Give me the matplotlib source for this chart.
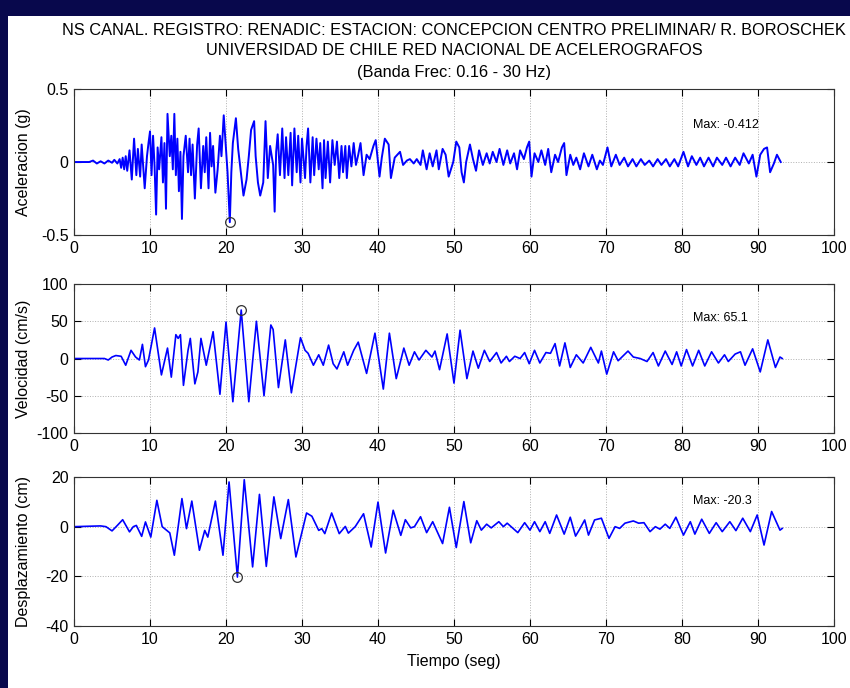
import matplotlib
matplotlib.use("Agg")
import matplotlib.pyplot as plt
from matplotlib.patches import Rectangle

plt.rcParams['font.family'] = ['Liberation Sans', 'DejaVu Sans']
plt.rcParams['axes.unicode_minus'] = False

t_acc = [0, 2.0, 2.5, 3.0, 3.5, 4.0, 4.5, 5.0, 5.3, 5.7, 6.0, 6.2, 6.4, 6.6, 6.8,
         7.0, 7.3, 7.6, 7.9, 8.2, 8.4, 8.7, 8.9, 9.3, 9.6, 9.8, 10.0, 10.2, 10.4, 10.6,
         10.8, 11.0, 11.2, 11.5, 11.7, 11.9, 12.1, 12.3, 12.6, 12.8, 13.0, 13.2, 13.4,
         13.6, 13.8, 14.0, 14.2, 14.4, 14.7, 15.0, 15.2, 15.4, 15.6, 15.9, 16.2, 16.4,
         16.7, 17.0, 17.2, 17.4, 17.7, 17.9, 18.1, 18.3, 18.6, 18.9, 19.2, 19.4, 19.7,
         20.0, 20.2, 20.5, 20.7, 20.9, 21.3, 21.6, 22.0, 22.3, 22.7, 23.0, 23.3, 23.7,
         23.9, 24.2, 24.5, 24.9, 25.2, 25.5, 25.8, 26.2, 26.4, 26.6, 26.8, 27.1, 27.4,
         27.7, 27.9, 28.2, 28.5, 28.7, 29.0, 29.3, 29.5, 29.8, 30.0, 30.4, 30.6, 30.8,
         31.1, 31.4, 31.6, 31.9, 32.2, 32.4, 32.7, 32.9, 33.1, 33.4, 33.7, 34.0, 34.3,
         34.6, 34.9, 35.2, 35.4, 35.7, 35.9, 36.2, 36.5, 36.8, 37.1, 37.4, 37.7, 38.1,
         38.5, 38.9, 39.4, 39.7, 40.2, 40.5, 40.9, 41.4, 41.7, 42.2, 42.9, 43.3, 43.8,
         44.2, 44.7, 45.1, 45.6, 45.9, 46.4, 46.8, 47.2, 47.7, 48.0, 48.5, 48.9, 49.3,
         49.9, 50.3, 50.7, 51.0, 51.3, 51.6, 52.1, 52.5, 52.9, 53.3, 53.8, 54.3, 54.7,
         55.1, 55.6, 56.0, 56.5, 57.0, 57.4, 57.9, 58.3, 58.7, 59.2, 59.6, 59.9, 60.2,
         60.6, 61.1, 61.5, 62.0, 62.4, 62.8, 63.3, 63.7, 64.2, 64.5, 64.8, 65.3, 65.7,
         66.1, 66.6, 67.1, 67.7, 68.2, 68.8, 69.2, 69.6, 70.2, 70.7, 71.3, 71.8, 72.4,
         72.9, 73.5, 74.0, 74.6, 75.1, 75.7, 76.2, 76.8, 77.3, 77.9, 78.4, 79.0, 79.5,
         80.2, 80.8, 81.3, 81.9, 82.4, 82.9, 83.5, 84.1, 84.6, 85.3, 85.8, 86.4, 87.0,
         87.6, 88.1, 88.8, 89.3, 89.8, 90.3, 90.8, 91.2, 91.6, 92.1, 92.5, 93.0]
acc = [0, 0, 0.01, -0.01, 0.005, -0.01, 0.01, -0.005, 0.015, -0.01, 0.02, -0.04, 0.03, -0.05, 0.04,
       -0.06, 0.08, -0.12, 0.16, -0.09, 0.09, -0.1, 0.12, -0.18, 0.04, 0.13, 0.21, -0.09, 0.18, -0.03,
       -0.36, 0.1, -0.05, 0.17, -0.14, 0.13, -0.32, 0.33, 0.04, 0.18, -0.05, 0.33, -0.09,
       0.16, -0.2, 0.07, -0.39, 0.04, 0.18, -0.07, 0.16, -0.09, 0.12, -0.25, 0.12, 0.23,
       -0.18, 0.11, -0.07, 0.17, -0.18, 0.2, -0.03, 0.11, -0.21, -0.05, 0.18, 0.04, 0.32,
       0.09, -0.07, -0.412, -0.07, 0.13, 0.3, 0.09, -0.09, -0.23, -0.12, 0.04, 0.22, 0.28,
       0.04, -0.14, -0.23, -0.14, 0.28, -0.11, 0.11, -0.02, -0.34, 0.07, 0.19, -0.09, 0.23,
       -0.11, 0.17, -0.09, 0.2, -0.16, 0.23, -0.07, 0.18, -0.14, 0.16, -0.11, 0.11, 0.23,
       -0.14, 0.17, -0.09, 0.16, -0.05, 0.13, -0.18, 0.15, -0.11, 0.14, -0.14, 0.15, -0.02,
       0.14, -0.11, 0.11, -0.07, 0.11, -0.11, 0.11, -0.03, 0.13, -0.02, 0.05, 0.13, -0.09,
       0.05, 0.02, 0.11, 0.15, -0.1, 0.03, 0.16, 0.12, -0.11, 0.03, 0.07, -0.02, 0.01,
       0.02, -0.01, 0.02, -0.02, 0.08, -0.05, 0.06, -0.03, 0.08, -0.05, 0.09, 0.05, -0.1,
       0.0, 0.14, 0.1, -0.07, -0.14, 0.0, 0.12, 0.02, -0.06, 0.08, -0.02, 0.06, -0.01,
       0.07, 0.0, 0.09, -0.02, 0.08, -0.01, 0.06, -0.05, 0.08, 0.02, 0.1, 0.14, -0.1,
       0.06, 0.0, 0.08, -0.02, 0.09, -0.07, 0.05, 0.0, 0.1, 0.13, -0.09, 0.05, -0.02,
       0.03, -0.05, 0.06, -0.03, 0.05, -0.05, 0.01, -0.02, 0.1, -0.03, 0.05, -0.02, 0.03,
       -0.03, 0.02, -0.03, 0.02, -0.02, 0.01, -0.03, 0.02, -0.02, 0.02, -0.03, 0.02, -0.03,
       0.07, -0.03, 0.04, -0.02, 0.03, -0.03, 0.03, -0.03, 0.03, -0.02, 0.03, -0.03, 0.03,
       -0.02, 0.06, -0.01, 0.05, -0.1, 0.05, 0.09, 0.1, -0.07, -0.01, 0.05, 0.0]

# Velocidad (cm/s)
t_vel = [0, 4.0, 4.5, 5.0, 5.5, 6.2, 6.8, 7.5, 8.1, 8.6, 9.0, 9.4, 9.8, 10.6, 11.5, 11.9,
         12.3, 12.8, 13.4, 13.7, 14.0, 14.4, 15.0, 15.3, 15.9, 16.3, 16.7, 17.4, 18.3, 19.2,
         20.0, 20.9, 22.0, 23.0, 24.0, 25.0, 25.9, 26.2, 26.9, 27.8, 28.6, 29.8, 30.4, 30.8,
         31.5, 32.2, 32.8, 33.5, 34.1, 34.6, 35.5, 36.0, 36.8, 37.4, 38.5, 39.6, 40.7, 41.5,
         42.4, 43.4, 44.1, 44.8, 45.4, 46.3, 47.1, 47.5, 48.1, 49.1, 50.0, 50.8, 51.7, 52.5,
         53.2, 54.0, 54.7, 55.6, 56.2, 56.9, 57.3, 58.0, 58.7, 59.3, 59.9, 60.6, 61.3, 62.1,
         62.7, 63.3, 63.9, 64.6, 65.3, 66.1, 67.0, 68.0, 69.0, 69.4, 70.1, 71.0, 71.6, 72.4,
         72.9, 73.6, 74.5, 75.4, 76.2, 76.9, 77.8, 78.7, 79.3, 79.9, 80.6, 81.4, 82.2, 83.0,
         83.9, 84.8, 85.6, 86.1, 87.0, 87.7, 88.3, 89.3, 90.3, 91.3, 92.3, 92.9, 93.2]
vel = [0, 0, -2, 2, 4, 3, -9, 11, 2, -2, 19, -11, -2, 41, -22, -4,
       14, -25, 32, 27, 32, -36, 11, 27, -34, -18, 27, -9, 36, -48,
       49, -58, 65.1, -58, 50, -50, 45, 39, -39, 25, -46, 28, 11, 7,
       -9, 5, -9, 18, -7, -14, 9, -9, 11, 22, -20, 34, -41, 34,
       -27, 14, -9, 9, -2, 11, 2, 10, -15, 33, -33, 38, -27, 10,
       -13, 11, -4, 8, -6, 3, -4, 3, 0, 8, -7, 11, -6, 8,
       7, 20, -10, 21, -12, 5, -6, 15, -6, 10, -21, 9, -3, 5,
       10, 2, 0, -4, 8, -10, 10, -8, 9, -10, 12, -10, 11, -10,
       9, -6, 5, -4, 6, 9, -9, 13, -18, 25, -12, 2, 0]

# Desplazamiento (cm)
t_des = [0, 3.5, 4.2, 5.0, 5.7, 6.4, 7.3, 7.8, 8.2, 8.9, 9.4, 10.1, 10.9, 11.6, 12.2, 12.6,
         13.2, 14.2, 14.8, 15.5, 16.5, 17.2, 17.6, 18.6, 19.6, 20.4, 21.5, 22.4, 23.5, 24.4,
         25.3, 26.3, 27.2, 28.2, 29.2, 30.6, 31.3, 32.2, 32.6, 33.0, 33.9, 34.9, 35.7, 36.1,
         37.0, 38.1, 39.1, 40.0, 41.0, 42.0, 43.0, 43.6, 44.3, 44.8, 45.6, 46.4, 47.2, 48.5,
         49.4, 50.3, 51.3, 52.2, 53.0, 53.6, 54.3, 54.9, 55.9, 56.5, 57.0, 58.4, 59.3, 60.0,
         60.6, 61.3, 62.0, 62.6, 63.5, 64.5, 65.3, 66.0, 66.6, 67.2, 67.7, 68.5, 69.4, 70.4,
         71.2, 71.8, 72.5, 73.6, 74.3, 75.0, 75.8, 76.5, 77.1, 77.8, 78.4, 79.2, 80.2, 81.1,
         81.7, 82.6, 83.6, 84.5, 85.3, 86.3, 87.1, 88.0, 89.0, 89.9, 90.8, 91.8, 92.9, 93.2]
des = [0, 0.3, 0, -1.7, 0.5, 2.8, -2.1, 0, 0.5, -3.9, 1.9, -4.2, 10.6, 0, -1.5, -2.5,
       -11.5, 11.3, -0.8, 10.3, -9.5, -1.5, -4.2, 10.3, -11.5, 18, -20.3, 18.9, -16.2, 13,
       -16, 12, -4.8, 10.9, -12.2, 5.5, 4.2, -1.5, -0.8, -2.8, 5.5, -2.8, 0.1, -2.6,
       0, 5.2, -8.2, 9.9, -10.6, 6.6, -3.5, 2.8, -0.5, 0, 4, -2.4, 2, -6.8,
       7.8, -8.4, 10.1, -6.5, 2.4, -1.4, 1, -0.5, 2, 0, 1.4, -2.4, 1.6, -1.4,
       2, -2, 2, -2.7, 4.7, -3, 3.8, -3.8, -0.7, 2.7, -3.4, 2.7, 3.4, -4.7,
       0, -0.7, 1.4, 2.3, 1.4, 1.6, -2, 0, -1, 1, -0.7, 3.8, -3.4, 2,
       -3, 3, -2.7, 1.6, -2, 2, -1.6, 3.4, -2, 4.7, -7.4, 6.1, -1.4, -0.7]

ylabels = ['Aceleracion (g)', 'Velocidad (cm/s)', 'Desplazamiento (cm)']
ylims = [(-0.5, 0.5), (-100, 100), (-40, 20)]
yticks = [[-0.5, 0, 0.5], [-100, -50, 0, 50, 100], [-40, -20, 0, 20]]
yticklabels = [['-0.5', '0', '0.5'], ['-100', '-50', '0', '50', '100'], ['-40', '-20', '0', '20']]
max_text = ['Max: -0.412', 'Max: 65.1', 'Max: -20.3']
max_t = [20.5, 22.0, 21.5]
max_val = [-0.412, 65.1, -20.3]
text_y = [0.253, 54, 10.3]
series_t = [t_acc, t_vel, t_des]
series_v = [acc, vel, des]
line_w = [1.4, 1.2, 1.2]

fig = plt.figure(figsize=(8.5, 6.88), dpi=100)
fig.patch.set_facecolor('#08084c')
fig.patches.append(Rectangle((8 / 850, 0), 1, 1 - 16 / 688, transform=fig.transFigure,
                             facecolor='white', edgecolor='none', zorder=-10))

fig.text(0.534, 0.956, 'NS CANAL. REGISTRO: RENADIC: ESTACION: CONCEPCION CENTRO PRELIMINAR/ R. BOROSCHEK',
         ha='center', va='center', fontsize=11.8)
fig.text(0.534, 0.927, 'UNIVERSIDAD DE CHILE RED NACIONAL DE ACELEROGRAFOS',
         ha='center', va='center', fontsize=11.8)
fig.text(0.534, 0.895, '(Banda Frec: 0.16 - 30 Hz)', ha='center', va='center', fontsize=11.8)

bottoms = [0.6584, 0.3706, 0.0901]
heights = [0.2122, 0.2166, 0.2166]

for i in range(3):
    ax = fig.add_axes([0.0871, bottoms[i], 0.894, heights[i]])
    ax.plot(series_t[i], series_v[i], color='#0000ff', lw=line_w[i], solid_joinstyle='round')
    ax.plot(max_t[i], max_val[i], 'o', mfc='none', mec='#333333', ms=7, mew=0.9)
    ax.text(81.5, text_y[i], max_text[i], fontsize=9, va='center', ha='left')
    ax.set_xlim(0, 100)
    ax.set_ylim(*ylims[i])
    ax.set_xticks(range(0, 101, 10))
    ax.set_yticks(yticks[i])
    ax.set_yticklabels(yticklabels[i])
    ax.tick_params(direction='in', top=True, right=True, labelsize=11.5, length=5, pad=4)
    ax.grid(True, linestyle=':', color='#b0b0b0', lw=0.7)
    ax.set_ylabel(ylabels[i], fontsize=11.5)
    ax.yaxis.set_label_coords(-0.057, 0.5)
    for s in ax.spines.values():
        s.set_linewidth(0.8)
        s.set_color('#333333')

ax.set_xlabel('Tiempo (seg)', fontsize=11.5)
ax.xaxis.set_label_coords(0.5, -0.19)

fig.savefig('out.png', dpi=100, facecolor=fig.get_facecolor())
